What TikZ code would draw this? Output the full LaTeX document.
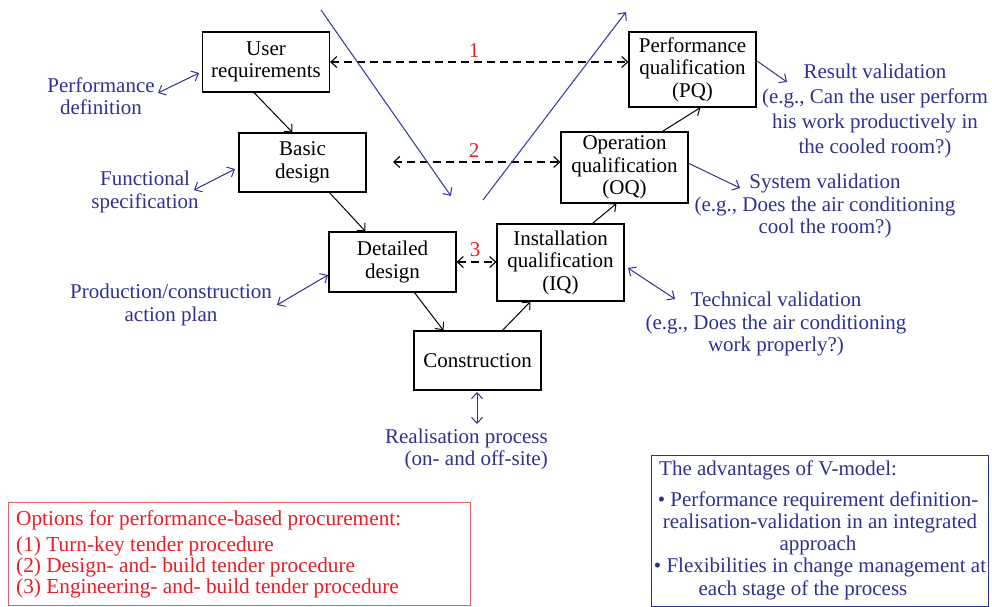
\documentclass[tikz,border=0pt]{standalone}
\usepackage{fontspec}
\setmainfont{Liberation Serif}
\usetikzlibrary{arrows.meta,calc}
\definecolor{vblue}{RGB}{46,49,146}
\definecolor{lblue}{RGB}{55,65,170}
\definecolor{vred}{RGB}{237,28,36}
\definecolor{lred}{RGB}{240,95,95}
\newcommand\fsz{\fontsize{21bp}{22.5bp}\selectfont}
\newcommand\fszw{\fontsize{21bp}{25bp}\selectfont}
\tikzset{
  box/.style={draw, line width=1.1bp, rectangle, inner sep=0pt, minimum width=127bp, align=center, font=\fsz},
  lbl/.style={text=vblue, align=center, font=\fsz, inner sep=0pt},
  lblw/.style={text=vblue, align=center, font=\fszw, inner sep=0pt},
  flow/.style={->, line width=1bp},
  dsh/.style={<->, line width=1.1bp, dash pattern=on 8bp off 5bp},
  barr/.style={vblue, line width=1bp},
  vline/.style={->, lblue, line width=1.1bp},
  num/.style={text=vred, font=\fsz, inner sep=0pt},
}
\begin{document}
\begin{tikzpicture}[x=1bp,y=-1bp, >={Straight Barb[length=6bp,width=11bp]}]
\useasboundingbox (0,0) rectangle (992,607);
% boxes
\node[box, minimum height=60bp] (ur) at (266,62) {User\\requirements};
\node[box, minimum height=59bp] (bd) at (302.5,162.5) {Basic\\design};
\node[box, minimum height=60bp] (dd) at (392.5,262) {Detailed\\design};
\node[box, minimum height=59bp] (con) at (477.5,360.5) {Construction};
\node[box, minimum height=77bp] (iq) at (560.5,262.5) {Installation\\qualification\\(IQ)};
\node[box, minimum height=71bp] (oq) at (624.5,167.5) {Operation\\qualification\\(OQ)};
\node[box, minimum height=75bp] (pq) at (692.5,69.5) {Performance\\qualification\\(PQ)};
% flow arrows
\draw[flow] ([xshift=52bp]ur.south west) -- ([xshift=54bp]bd.north west);
\draw[flow] ([xshift=91bp]bd.south west) -- ([xshift=37bp]dd.north west);
\draw[flow] ([xshift=86bp]dd.south west) -- ([xshift=30bp]con.north west);
\draw[flow] ([xshift=89bp]con.north west) -- ([xshift=34bp]iq.south west);
\draw[flow] ([xshift=96bp]iq.north west) -- ([xshift=56bp]oq.south west);
\draw[flow] ([xshift=102bp]oq.north west) -- ([xshift=72bp]pq.south west);
% dashed links
\draw[dsh] (ur.east) -- (ur.east -| pq.west);
\coordinate (d2) at (393,162);
\draw[dsh] (d2) -- (d2 -| oq.west);
\draw[dsh] (dd.east) -- (dd.east -| iq.west);
\node[num] (n1) at (474,51) {1};
\node[num] (n2) at (474,151) {2};
\node[num] (n3) at (475,250) {3};
% V lines
\coordinate (va) at (321,10); \coordinate (vb) at (451,196);
\coordinate (vc) at (483,200); \coordinate (vd) at (626,12);
\draw[vline] (va) -- (vb);
\draw[vline] (vc) -- (vd);
% left labels
\node[lbl] (pdef) at (101,96) {Performance\\definition};
\node[lbl] (fspec) at (145,192) {Functional\\specification};
\node[lbl] (prod) at (171,305) {Production/construction\\action plan};
\coordinate (a1) at (158,93); \coordinate (a2) at (199,73);
\draw[barr,<->] (a1) -- (a2);
\coordinate (b1) at (194,190); \coordinate (b2) at (235,169);
\draw[barr,<->] (b1) -- (b2);
\coordinate (c1) at (277,305); \coordinate (c2) at (328,275);
\draw[barr,<->] (c1) -- (c2);
% right labels
\node[lblw] (rval) at (875,111) {Result validation\\(e.g., Can the user perform\\his work productively in\\the cooled room?)};
\node[lbl] (sval) at (825,206) {System validation\\(e.g., Does the air conditioning\\cool the room?)};
\node[lbl] (tval) at (776,324) {Technical validation\\(e.g., Does the air conditioning\\work properly?)};
\coordinate (r1) at (757,61); \coordinate (r2) at (787,82);
\draw[barr,->] (r1) -- (r2);
\coordinate (s1) at (688,163); \coordinate (s2) at (740,188);
\draw[barr,->] (s1) -- (s2);
\coordinate (t1) at (628,268); \coordinate (t2) at (675,299);
\draw[barr,<->] (t1) -- (t2);
% realisation
\node[lbl, align=right, anchor=east] (real) at (548,449.5) {Realisation process\\(on- and off-site)};
\coordinate (e1) at (477,392); \coordinate (e2) at (477,424);
\draw[barr,<->] (e1) -- (e2);
% red box
\node[draw=lred, line width=1.1bp, anchor=north west, minimum width=462bp, minimum height=103bp, inner sep=0pt] (opt) at (8,502) {};
\node[text=vred, font=\fontsize{21.3bp}{20.7bp}\selectfont, align=left, anchor=north west, inner sep=0pt] (optt) at (16,510)
 {Options for performance-based procurement:\\[6bp](1) Turn-key tender procedure\\(2) Design- and- build tender procedure\\(3) Engineering- and- build tender procedure};
% blue box
\node[draw=vblue, line width=1.1bp, anchor=north west, minimum width=337bp, minimum height=151bp, inner sep=0pt] (adv) at (651,455) {};
\node[lbl, anchor=west] (adv0) at (659,470) {The advantages of V-model:};
\node[lbl] (adv1) at (818,501.5) {\textbullet{} Performance requirement definition-};
\node[lbl] (adv2) at (820,523) {realisation-validation in an integrated};
\node[lbl] (adv3) at (818,545) {approach};
\node[lbl] (adv4) at (820,567) {\textbullet{} Flexibilities in change management at};
\node[lbl] (adv5) at (803,590) {each stage of the process};
\end{tikzpicture}
\end{document}
